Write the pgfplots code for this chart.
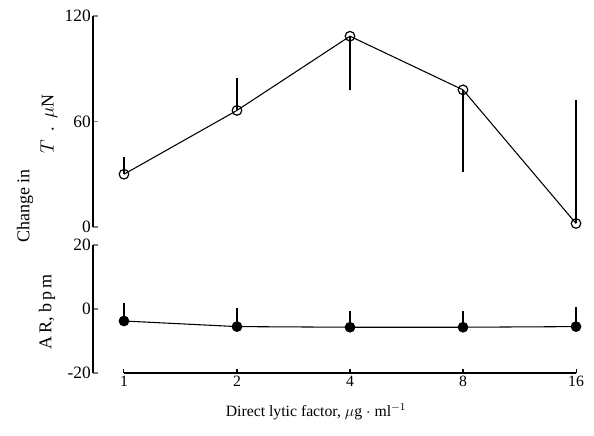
\documentclass[border=0pt]{standalone}
\usepackage{pgfplots}
\pgfplotsset{compat=1.18}
\usepackage{fontspec}
\setmainfont{Liberation Serif}

% index 0..4 stands for 1,2,4,8,16 (log2 spacing)
\pgfplotstableread{
x  y     ep  em
0  30    10  0
1  66.3  18.4 0
2  108.5 0   30.5
3  78    0   47
4  2     70  0
}\tensiontab
\pgfplotstableread{
x  y     ep   em
0  -3.75 5.65 0
1  -5.5  5.8  0
2  -5.7  5.2  0
3  -5.7  5.2  0
4  -5.5  6.2  0
}\ratetab

\tikzset{ylab/.style={rotate=90, anchor=center, font=\fontsize{13.5}{15}\selectfont}}

\begin{document}
\begin{tikzpicture}[font=\fontsize{11.8}{13}\selectfont]
\pgfplotsset{
  panel/.style={
    scale only axis, width=375.75pt,
    xmin=-0.274, xmax=4.159,
    axis y line*=left, axis x line*=bottom,
    axis line style={line width=1.2pt, -},
    x axis line style={draw=none}, xtick=\empty,
    ytick style={line width=0.8pt},
    tick align=inside, major tick length=4pt,
    yticklabel style={font=\fontsize{13}{14}\selectfont, inner sep=1.5pt},
    /pgf/number format/assume math mode=true,
    clip=false,
  },
}
% upper panel: change in T
\begin{axis}[panel, name=top, height=158.25pt,
    ymin=0, ymax=120, ytick={0,60,120}]
\draw[line width=1.2pt] (rel axis cs:0,0) -- (rel axis cs:0,1);
\path (rel axis cs:0,1) ++(-69.75pt,12pt) coordinate (bbtl);
\addplot[black, line width=0.8pt, mark=o, mark size=3.6pt,
    mark options={line width=0.9pt, fill=white},
    error bars/.cd, y dir=both, y explicit,
    error mark=none, error bar style={line width=1.1pt}]
  table[x=x, y=y, y error plus=ep, y error minus=em] {\tensiontab};
\node[xshift=-33pt, ylab] at (rel axis cs:0,0.49) {$T$\ \,.\ \ $\mu$N};
\node[xshift=-51pt, ylab] at (rel axis cs:0,0.10) {Change in};
\end{axis}
% lower panel: change in AR
\begin{axis}[panel, at={(top.south west)}, anchor=north west, yshift=-13.5pt,
    height=96pt, ymin=-20, ymax=20, ytick={-20,0,20}]
\draw[line width=1.2pt] (rel axis cs:0,0) -- (rel axis cs:0,1);
\path (rel axis cs:1,0) ++(0pt,-47.25pt) coordinate (bbbr);
\addplot[black, line width=0.8pt, mark=*, mark size=3.6pt,
    error bars/.cd, y dir=both, y explicit,
    error mark=none, error bar style={line width=1.1pt}]
  table[x=x, y=y, y error plus=ep, y error minus=em] {\ratetab};
\draw[line width=1.1pt] (axis cs:0,-20) -- (axis cs:4,-20);
\draw[line width=0.8pt] (axis cs:0,-20) -- ++(0pt,3pt);
\draw[line width=0.8pt] (axis cs:1,-20) -- ++(0pt,3pt);
\draw[line width=0.8pt] (axis cs:2,-20) -- ++(0pt,3pt);
\draw[line width=0.8pt] (axis cs:3,-20) -- ++(0pt,3pt);
\draw[line width=0.8pt] (axis cs:4,-20) -- ++(0pt,3pt);
\node[anchor=north, inner sep=1pt, yshift=-1pt] at (axis cs:0,-20) {1};
\node[anchor=north, inner sep=1pt, yshift=-1pt] at (axis cs:1,-20) {2};
\node[anchor=north, inner sep=1pt, yshift=-1pt] at (axis cs:2,-20) {4};
\node[anchor=north, inner sep=1pt, yshift=-1pt] at (axis cs:3,-20) {8};
\node[anchor=north, inner sep=1pt, yshift=-1pt] at (axis cs:4,-20) {16};
\node[xshift=-34.5pt, ylab] at (rel axis cs:0,0.48) {A\,R,\ b\,p\,m};
\node[anchor=center, yshift=-29pt] at (axis cs:1.70,-20) {Direct lytic factor, $\mu$g $\cdot$ ml$^{-1}$};
\end{axis}
\path (bbtl) rectangle (bbbr);
\end{tikzpicture}
\end{document}
